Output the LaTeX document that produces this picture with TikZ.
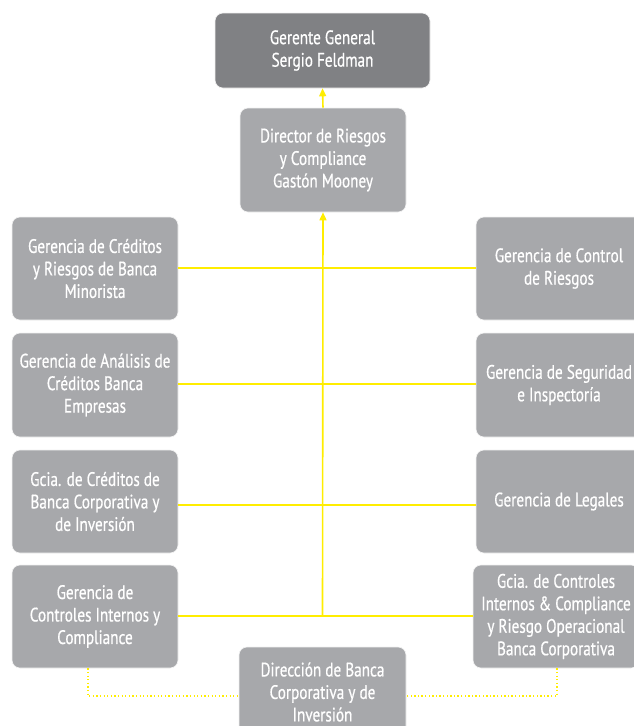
\documentclass[tikz,border=0pt]{standalone}
\usepackage{fontspec}
\setmainfont{PT Sans}[FakeStretch=0.78,FakeBold=0.6]
\usetikzlibrary{arrows.meta}
\definecolor{boxdark}{HTML}{808184}
\definecolor{boxlight}{HTML}{A7A8AB}
\definecolor{linkyellow}{HTML}{FFED00}
\begin{document}
\begin{tikzpicture}[x=1pt,y=-1pt,
  orgbox/.style={rectangle, rounded corners=8pt, fill=boxlight, draw=white!85!boxlight, line width=0.6pt,
    text=white, align=center, font=\fontsize{19.5}{22.5}\selectfont, inner sep=2pt},
  topbox/.style={orgbox, fill=boxdark},
  link/.style={draw=linkyellow, line width=1.6pt},
  uparrow/.style={link, -{Triangle[width=7pt,length=8pt]}},
  dotlink/.style={draw=linkyellow, line width=1.3pt, dash pattern=on 1.3pt off 2.3pt}]
\useasboundingbox (0,0) rectangle (633,726);

% top management
\node[topbox, minimum width=215pt, minimum height=75pt] (gg) at (322.5,50.5) {Gerente General\\Sergio Feldman};
\node[orgbox, minimum width=166pt, minimum height=104pt] (dir) at (323,160) {Director de Riesgos\\y Compliance\\Gastón Mooney};

% left column
\node[orgbox, minimum width=166pt, minimum height=103pt] (l1) at (95,268.5) {Gerencia de Créditos\\y Riesgos de Banca\\Minorista};
\node[orgbox, minimum width=166pt, minimum height=104pt] (l2) at (95,385) {Gerencia de Análisis de\\Créditos Banca\\Empresas};
\node[orgbox, minimum width=166pt, minimum height=103pt] (l3) at (95,501.5) {Gcia. de Créditos de\\Banca Corporativa y\\de Inversión};
\node[orgbox, minimum width=166pt, minimum height=103pt] (l4) at (95,616.5) {Gerencia de\\Controles Internos y\\Compliance};

% right column
\node[orgbox, minimum width=166pt, minimum height=103pt] (r1) at (559,268.5) {Gerencia de Control\\de Riesgos};
\node[orgbox, minimum width=166pt, minimum height=104pt] (r2) at (559,385) {Gerencia de Seguridad\\e Inspectoría};
\node[orgbox, minimum width=166pt, minimum height=103pt] (r3) at (559,501.5) {Gerencia de Legales};
\node[orgbox, minimum width=166pt, minimum height=103pt] (r4) at (556,616.5) {Gcia. de Controles\\Internos \& Compliance\\y Riesgo Operacional\\Banca Corporativa};

% bottom unit (runs past the lower edge)
\node[orgbox, minimum width=167pt, minimum height=90pt] (dbc) at (322.5,692) {Dirección de Banca\\Corporativa y de\\Inversión};

% rows where the branches cross
\coordinate (row1) at (0,268);
\coordinate (row2) at (0,384);
\coordinate (row3) at (0,505);
\coordinate (row4) at (0,616);

% reporting lines
\coordinate (trunk) at (322.5,616);
\draw[uparrow] (trunk) -- (dir.south);
\draw[uparrow] (dir.north) -- (gg.south);
\draw[link] (l1.east |- row1) -- (r1.west |- row1);
\draw[link] (l2.east |- row2) -- (r2.west |- row2);
\draw[link] (l3.east |- row3) -- (r3.west |- row3);
\draw[link] (l4.east |- row4) -- (r4.west |- row4);

% coordination links
\coordinate (dotrow) at (0,696);
\draw[dotlink] ([xshift=-7pt]l4.south) |- (dbc.west |- dotrow);
\draw[dotlink] ([xshift=1pt]r4.south) |- (dbc.east |- dotrow);
\end{tikzpicture}
\end{document}
